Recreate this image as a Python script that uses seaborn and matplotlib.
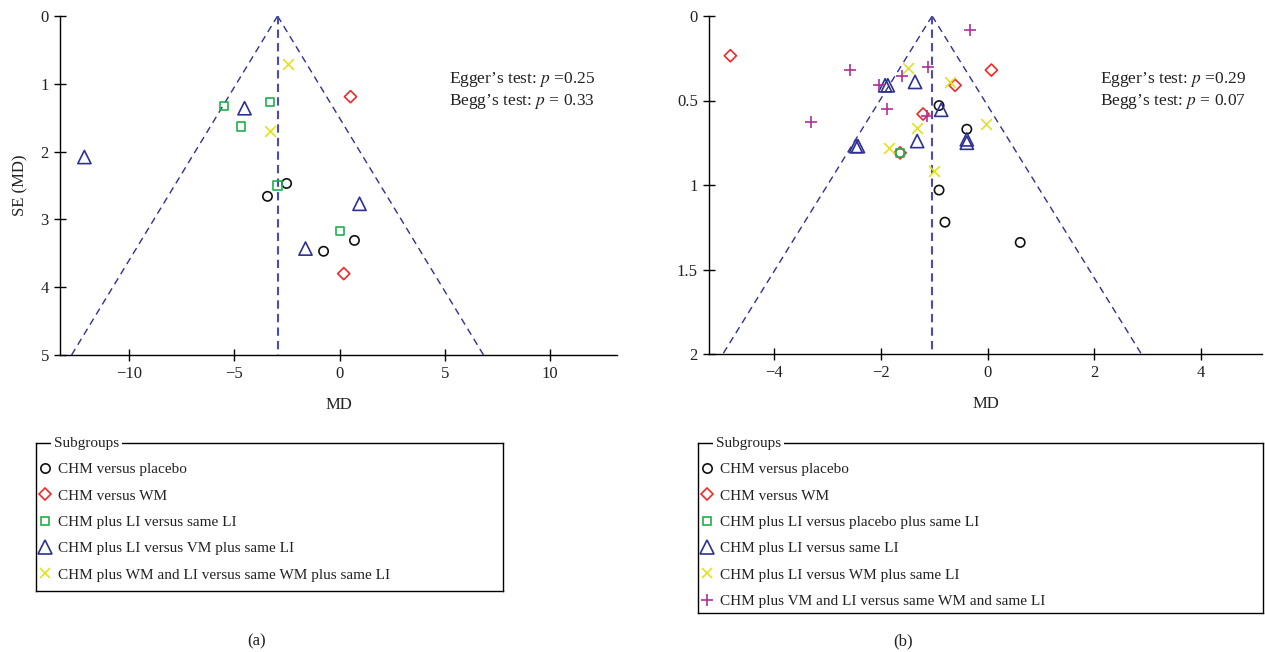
import numpy as np
import pandas as pd
import matplotlib
matplotlib.use('Agg')
import matplotlib.pyplot as plt
import seaborn as sns
from matplotlib.lines import Line2D

# ---- panel (a) data ----
a_labels = ['CHM versus placebo', 'CHM versus WM', 'CHM plus LI versus same LI',
            'CHM plus LI versus VM plus same LI', 'CHM plus WM and LI versus same WM plus same LI']
a_md_placebo = [-3.43, -2.52, 0.71, -0.76]
a_se_placebo = [2.66, 2.47, 3.31, 3.47]
a_md_wm = [0.52, 0.20]
a_se_wm = [1.19, 3.80]
a_md_li = [-5.48, -4.67, -3.29, -2.95, 0.0]
a_se_li = [1.33, 1.63, 1.27, 2.50, 3.17]
a_md_vm = [-12.14, -4.52, -1.62, 0.95]
a_se_vm = [2.08, 1.36, 3.43, 2.77]
a_md_wmli = [-2.43, -3.33]
a_se_wmli = [0.71, 1.69]
a_pooled = -2.95
a_egger, a_begg = '0.25', '0.33'

# ---- panel (b) data ----
b_labels = ['CHM versus placebo', 'CHM versus WM', 'CHM plus LI versus placebo plus same LI',
            'CHM plus LI versus same LI', 'CHM plus LI versus WM plus same LI',
            'CHM plus VM and LI versus same WM and same LI']
b_md_placebo = [-0.91, -0.39, -0.91, -0.80, 0.61]
b_se_placebo = [0.53, 0.67, 1.03, 1.22, 1.34]
b_md_wm = [-4.82, 0.07, -0.61, -1.21, -1.64]
b_se_wm = [0.235, 0.32, 0.41, 0.58, 0.81]
b_md_plac_li = [-1.64]
b_se_plac_li = [0.81]
b_md_li = [-1.92, -1.87, -1.36, -0.87, -1.32, -0.39, -0.39, -2.47, -2.43]
b_se_li = [0.41, 0.41, 0.39, 0.555, 0.74, 0.73, 0.75, 0.77, 0.77]
b_md_wmli = [-1.49, -0.70, -1.32, -1.84, -1.00, -0.03]
b_se_wmli = [0.31, 0.39, 0.66, 0.78, 0.92, 0.64]
b_md_vmli = [-2.57, -3.30, -2.03, -1.88, -1.60, -1.11, -0.33, -1.13]
b_se_vmli = [0.32, 0.63, 0.41, 0.55, 0.355, 0.30, 0.08, 0.59]
b_pooled = -1.04
b_egger, b_begg = '0.29', '0.07'

# marker styles: (marker, colour, size)
styles = {
    'circle': ('o', '#111111', 45),
    'diamond': ('D', '#ee2a2a', 38),
    'square': ('s', '#1cb04b', 34),
    'triangle': ('^', '#2e3192', 90),
    'x': ('x', '#e3e01e', 60),
    'plus': ('+', '#b0309a', 65),
}

a_sets = [(a_md_placebo, a_se_placebo, 'circle'), (a_md_wm, a_se_wm, 'diamond'),
          (a_md_li, a_se_li, 'square'), (a_md_vm, a_se_vm, 'triangle'),
          (a_md_wmli, a_se_wmli, 'x')]
b_sets = [(b_md_placebo, b_se_placebo, 'circle'), (b_md_wm, b_se_wm, 'diamond'),
          (b_md_plac_li, b_se_plac_li, 'square'), (b_md_li, b_se_li, 'triangle'),
          (b_md_wmli, b_se_wmli, 'x'), (b_md_vmli, b_se_vmli, 'plus')]

sns.set_theme(style='ticks')
plt.rcParams['font.family'] = ['Liberation Serif', 'DejaVu Serif']
plt.rcParams['mathtext.fontset'] = 'stix'
plt.rcParams['font.size'] = 12

W, H = 1265, 652
FS = 12       # ticks / axis labels
FS_NOTE = 12.5
FS_LEG = 11
TXT = '#222222'
fig = plt.figure(figsize=(W / 100, H / 100), dpi=100)


def px_axes(l, t, r, b):
    return fig.add_axes([l / W, 1 - b / H, (r - l) / W, (b - t) / H])


def draw_funnel(ax, sets, pooled, se_max, egger, begg, text_x):
    for md, se, key in sets:
        m, c, s = styles[key]
        df = pd.DataFrame({'MD': md, 'SE': se})
        if m in ('x', '+'):
            sns.scatterplot(data=df, x='MD', y='SE', ax=ax, marker=m, color=c, s=s,
                            linewidth=1.2, legend=False, zorder=3)
        else:
            sns.scatterplot(data=df, x='MD', y='SE', ax=ax, marker=m, color=c, s=s,
                            facecolor='none', edgecolor=c, linewidth=1.2, legend=False, zorder=3)
    se_line = np.array([0, se_max])
    ax.plot(pooled - 1.96 * se_line, se_line, ls=(0, (5, 3.5)), color='#2e3192', lw=1.0, zorder=2)
    ax.plot(pooled + 1.96 * se_line, se_line, ls=(0, (5, 3.5)), color='#2e3192', lw=1.0, zorder=2)
    ax.plot([pooled, pooled], se_line, ls=(0, (4, 2.5)), color='#4c4cb0', lw=1.5, zorder=2)
    ax.set_ylim(se_max, 0)
    sns.despine(ax=ax)
    ax.tick_params(direction='inout', length=9, width=1, labelsize=FS, color='black',
                   labelcolor=TXT)
    for sp in ('left', 'bottom'):
        ax.spines[sp].set_color('black')
        ax.spines[sp].set_linewidth(1.0)
    ax.set_xlabel('MD', fontsize=FS, color=TXT, labelpad=11)
    ax.set_ylabel('')
    ax.text(text_x, 0.812, 'Egger’s test: $p$ =' + egger, transform=ax.transAxes,
            ha='right', va='center', fontsize=FS_NOTE, color=TXT)
    ax.text(text_x, 0.747, 'Begg’s test: $p$ = ' + begg, transform=ax.transAxes,
            ha='right', va='center', fontsize=FS_NOTE, color=TXT)


# panel (a)
ax_a = px_axes(60, 16, 617, 355)
draw_funnel(ax_a, a_sets, a_pooled, 5, a_egger, a_begg, (595 - 60) / (617 - 60))
ax_a.set_xlim(-13.3, 13.2)
ax_a.set_xticks([-10, -5, 0, 5, 10])
ax_a.set_yticks([0, 1, 2, 3, 4, 5])
ax_a.set_ylabel('SE (MD)', fontsize=FS, color=TXT, labelpad=9)

# panel (b)
ax_b = px_axes(709, 16, 1262, 354)
draw_funnel(ax_b, b_sets, b_pooled, 2, b_egger, b_begg, (1246 - 709) / (1262 - 709))
ax_b.set_xlim(-5.22, 5.14)
ax_b.set_xticks([-4, -2, 0, 2, 4])
ax_b.set_yticks([0, 0.5, 1, 1.5, 2])
ax_b.set_yticklabels(['0', '0.5', '1', '1.5', '2'])


def draw_legend(box, labels, keys):
    lax = px_axes(*box)
    bw, bh = box[2] - box[0], box[3] - box[1]
    lax.set_xticks([])
    lax.set_yticks([])
    for sp in lax.spines.values():
        sp.set_visible(True)
        sp.set_color('black')
        sp.set_linewidth(1.0)
    handles = []
    for key in keys:
        m, c, s = styles[key]
        ms = np.sqrt(s) * 1.0
        if m in ('x', '+'):
            handles.append(Line2D([], [], ls='none', marker=m, color=c, markersize=ms, mew=1.2))
        else:
            handles.append(Line2D([], [], ls='none', marker=m, markerfacecolor='none', markeredgecolor=c,
                                  markersize=ms, mew=1.2))
    leg = lax.legend(handles, labels, loc='upper left', bbox_to_anchor=(2 / bw, 1.0 - 19.5 / bh),
                     frameon=False, fontsize=FS_LEG, handlelength=0.95, handletextpad=0.38,
                     labelspacing=0.83, borderaxespad=0, borderpad=0)
    for t in leg.get_texts():
        t.set_color(TXT)
    lax.text(18 / bw, 1.0, 'Subgroups', transform=lax.transAxes, ha='left', va='center',
             fontsize=FS_LEG, color=TXT,
             bbox=dict(facecolor='white', edgecolor='none', pad=2))
    return lax


draw_legend((36, 443, 503, 591), a_labels, [k for _, _, k in a_sets])
draw_legend((698, 443, 1263, 613), b_labels, [k for _, _, k in b_sets])

fig.text(257 / W, 1 - 641 / H, '(a)', ha='center', va='center', fontsize=FS, color=TXT)
fig.text(903 / W, 1 - 641 / H, '(b)', ha='center', va='center', fontsize=FS, color=TXT)

fig.savefig('out.png', dpi=100, facecolor='white')
